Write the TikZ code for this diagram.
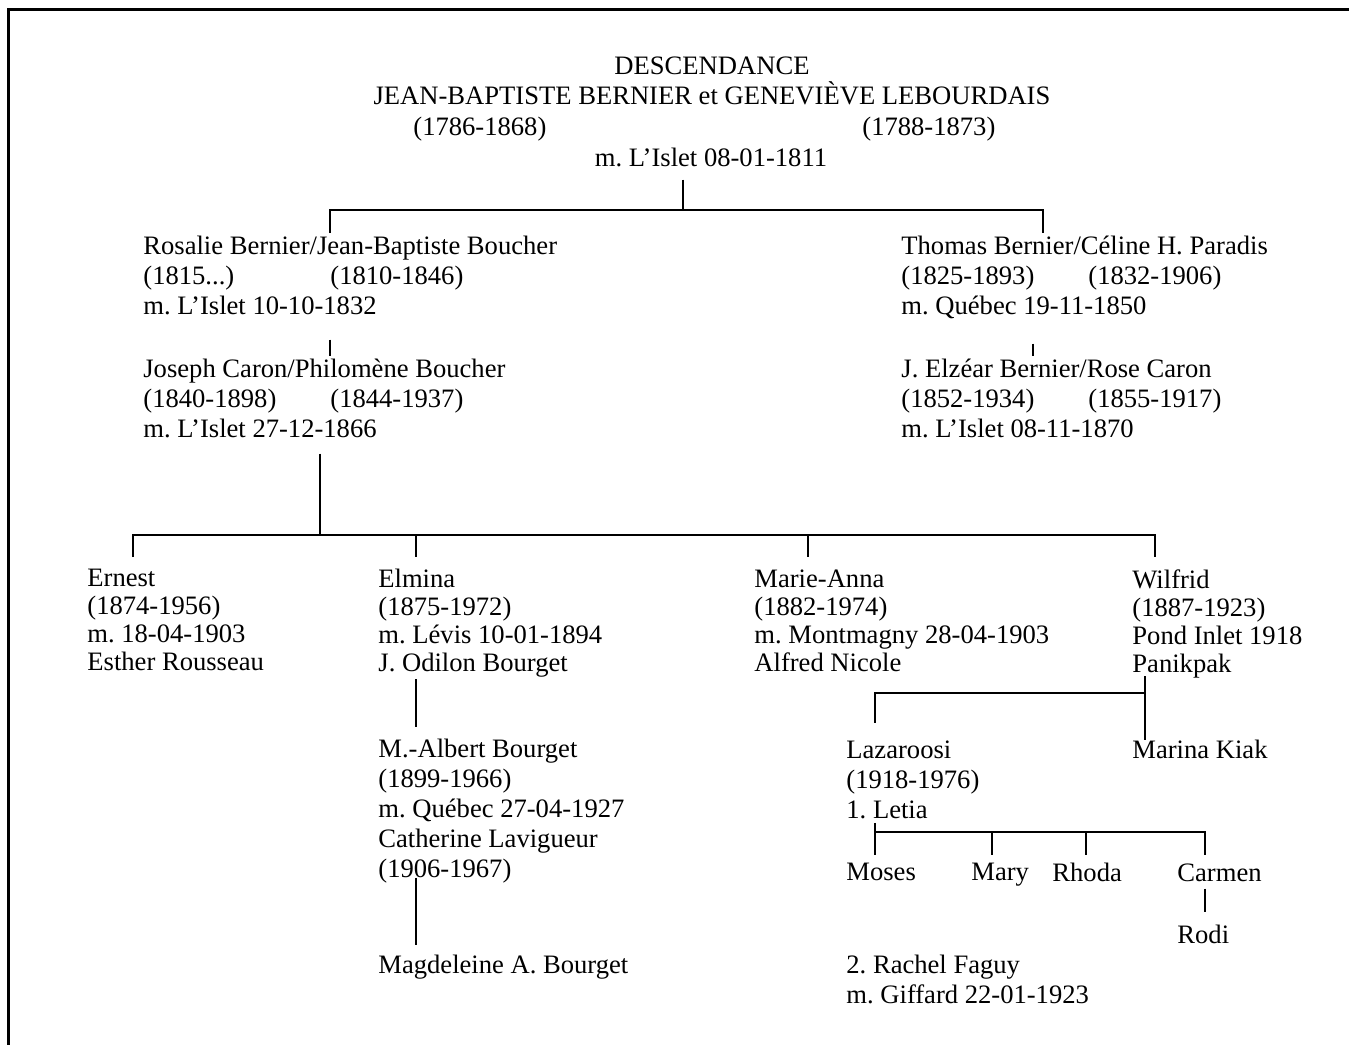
\documentclass[tikz,border=0pt]{standalone}
\usepackage{fontspec}
\setmainfont{Liberation Serif}
\usetikzlibrary{positioning,calc}
\frenchspacing
\newcommand\couple[2]{\makebox[93.5pt][l]{#1}#2}
\tikzstyle{person} = [anchor=north west, inner sep=0pt, align=left, font=\fontsize{13.3}{15}\selectfont]
\tikzstyle{row} = [person, font=\fontsize{13.3}{14}\selectfont]
\tikzstyle{link} = [line width=1.35pt]

\begin{document}
\begin{tikzpicture}[x=0.5pt,y=-0.5pt]
\useasboundingbox (0,0) rectangle (1349,1044);
\draw[line width=1.5pt] (8,9) rectangle (1400,1100);
% couple de depart
\node[person, anchor=north, align=center] (title) at (712,56) {DESCENDANCE\\JEAN-BAPTISTE BERNIER et GENEVIÈVE LEBOURDAIS};
\node[person] (d1) at (413,117) {(1786-1868)};
\node[person] (d2) at (862,117) {(1788-1873)};
\node[person, anchor=north] (m0) at (711,148) {m. L’Islet 08-01-1811};
% deux branches
\node[person] (rosalie) at (143,236) {Rosalie Bernier/Jean-Baptiste Boucher\\\couple{(1815...)}{(1810-1846)}\\m. L’Islet 10-10-1832};
\node[person] (thomas) at (901,236) {Thomas Bernier/Céline H. Paradis\\\couple{(1825-1893)}{(1832-1906)}\\m. Québec 19-11-1850};
\node[person] (joseph) at (143,359) {Joseph Caron/Philomène Boucher\\\couple{(1840-1898)}{(1844-1937)}\\m. L’Islet 27-12-1866};
\node[person] (elzear) at (901,359) {J. Elzéar Bernier/Rose Caron\\\couple{(1852-1934)}{(1855-1917)}\\m. L’Islet 08-11-1870};
% enfants Caron
\node[row] (ernest) at (87,569) {Ernest\\(1874-1956)\\m. 18-04-1903\\Esther Rousseau};
\node[row] (elmina) at (378,569) {Elmina\\(1875-1972)\\m. Lévis 10-01-1894\\J. Odilon Bourget};
\node[row] (marie) at (754,569) {Marie-Anna\\(1882-1974)\\m. Montmagny 28-04-1903\\Alfred Nicole};
\node[row] (wilfrid) at (1132,569) {Wilfrid\\(1887-1923)\\Pond Inlet 1918\\Panikpak};
\node[person] (albert) at (378,739) {M.-Albert Bourget\\(1899-1966)\\m. Québec 27-04-1927\\Catherine Lavigueur\\(1906-1967)};
\node[person] (magd) at (378,955) {Magdeleine A. Bourget};
\node[person] (lazar) at (846,740) {Lazaroosi\\(1918-1976)\\1. Letia};
\node[person] (marina) at (1132,740) {Marina Kiak};
\node[person] (moses) at (846,863) {Moses};
\node[person] (mary) at (971,863) {Mary};
\node[person] (rhoda) at (1052,863) {Rhoda};
\node[person] (carmen) at (1177,863) {Carmen};
\node[person] (rodi) at (1177,925) {Rodi};
\node[person] (rachel) at (846,955) {2. Rachel Faguy\\m. Giffard 22-01-1923};
% traits
\coordinate (top) at (683,210);
\coordinate (topl) at (330,210);
\coordinate (topr) at (1043,210);
\draw[link, shorten <=6pt] (m0.south -| top) -- (top);
\draw[link, shorten <=1.5pt, shorten >=1.5pt] (topl |- rosalie.north) |- (topr) -- (topr |- thomas.north);
\coordinate (mid1) at (330,0);
\coordinate (mid2) at (1033,0);
\draw[link, shorten <=12pt, shorten >=1.5pt] (rosalie.south -| mid1) -- (joseph.north -| mid1);
\draw[link, shorten <=12pt, shorten >=1.5pt] (thomas.south -| mid2) -- (elzear.north -| mid2);
\coordinate (bar) at (320,535);
\coordinate (k1) at (133,535);
\coordinate (k2) at (416,535);
\coordinate (k3) at (808,535);
\coordinate (k4) at (1155,535);
\draw[link, shorten <=7.5pt] (joseph.south -| bar) -- (bar);
\draw[link, shorten <=6pt, shorten >=6pt] (k1 |- ernest.north) |- (k4) -- (k4 |- wilfrid.north);
\draw[link, shorten >=6pt] (k2) -- (k2 |- elmina.north);
\draw[link, shorten >=6pt] (k3) -- (k3 |- marie.north);
\draw[link, shorten <=0.5pt, shorten >=6pt] (elmina.south -| k2) -- (albert.north -| k2);
\draw[link, shorten <=-3pt, shorten >=5pt] (albert.south -| k2) -- (magd.north -| k2);
\coordinate (w) at (1145,693);
\coordinate (wl) at (875,693);
\draw[link, shorten <=-1pt] (wilfrid.south -| w) -- (marina.north -| w);
\draw[link, shorten >=8.5pt] (w) -| (lazar.north -| wl);
\coordinate (l0) at (875,832);
\coordinate (l1) at (992,832);
\coordinate (l2) at (1086,832);
\coordinate (l3) at (1205,832);
\draw[link, shorten <=2pt, shorten >=4pt] (lazar.south -| l0) -- (moses.north -| l0);
\draw[link, shorten >=4pt] (l0) -- (l3) -- (l3 |- carmen.north);
\draw[link, shorten >=4pt] (l1) -- (l1 |- mary.north);
\draw[link, shorten >=4pt] (l2) -- (l2 |- rhoda.north);
\draw[link, shorten <=3.5pt, shorten >=6.5pt] (carmen.south -| l3) -- (rodi.north -| l3);
\end{tikzpicture}
\end{document}
